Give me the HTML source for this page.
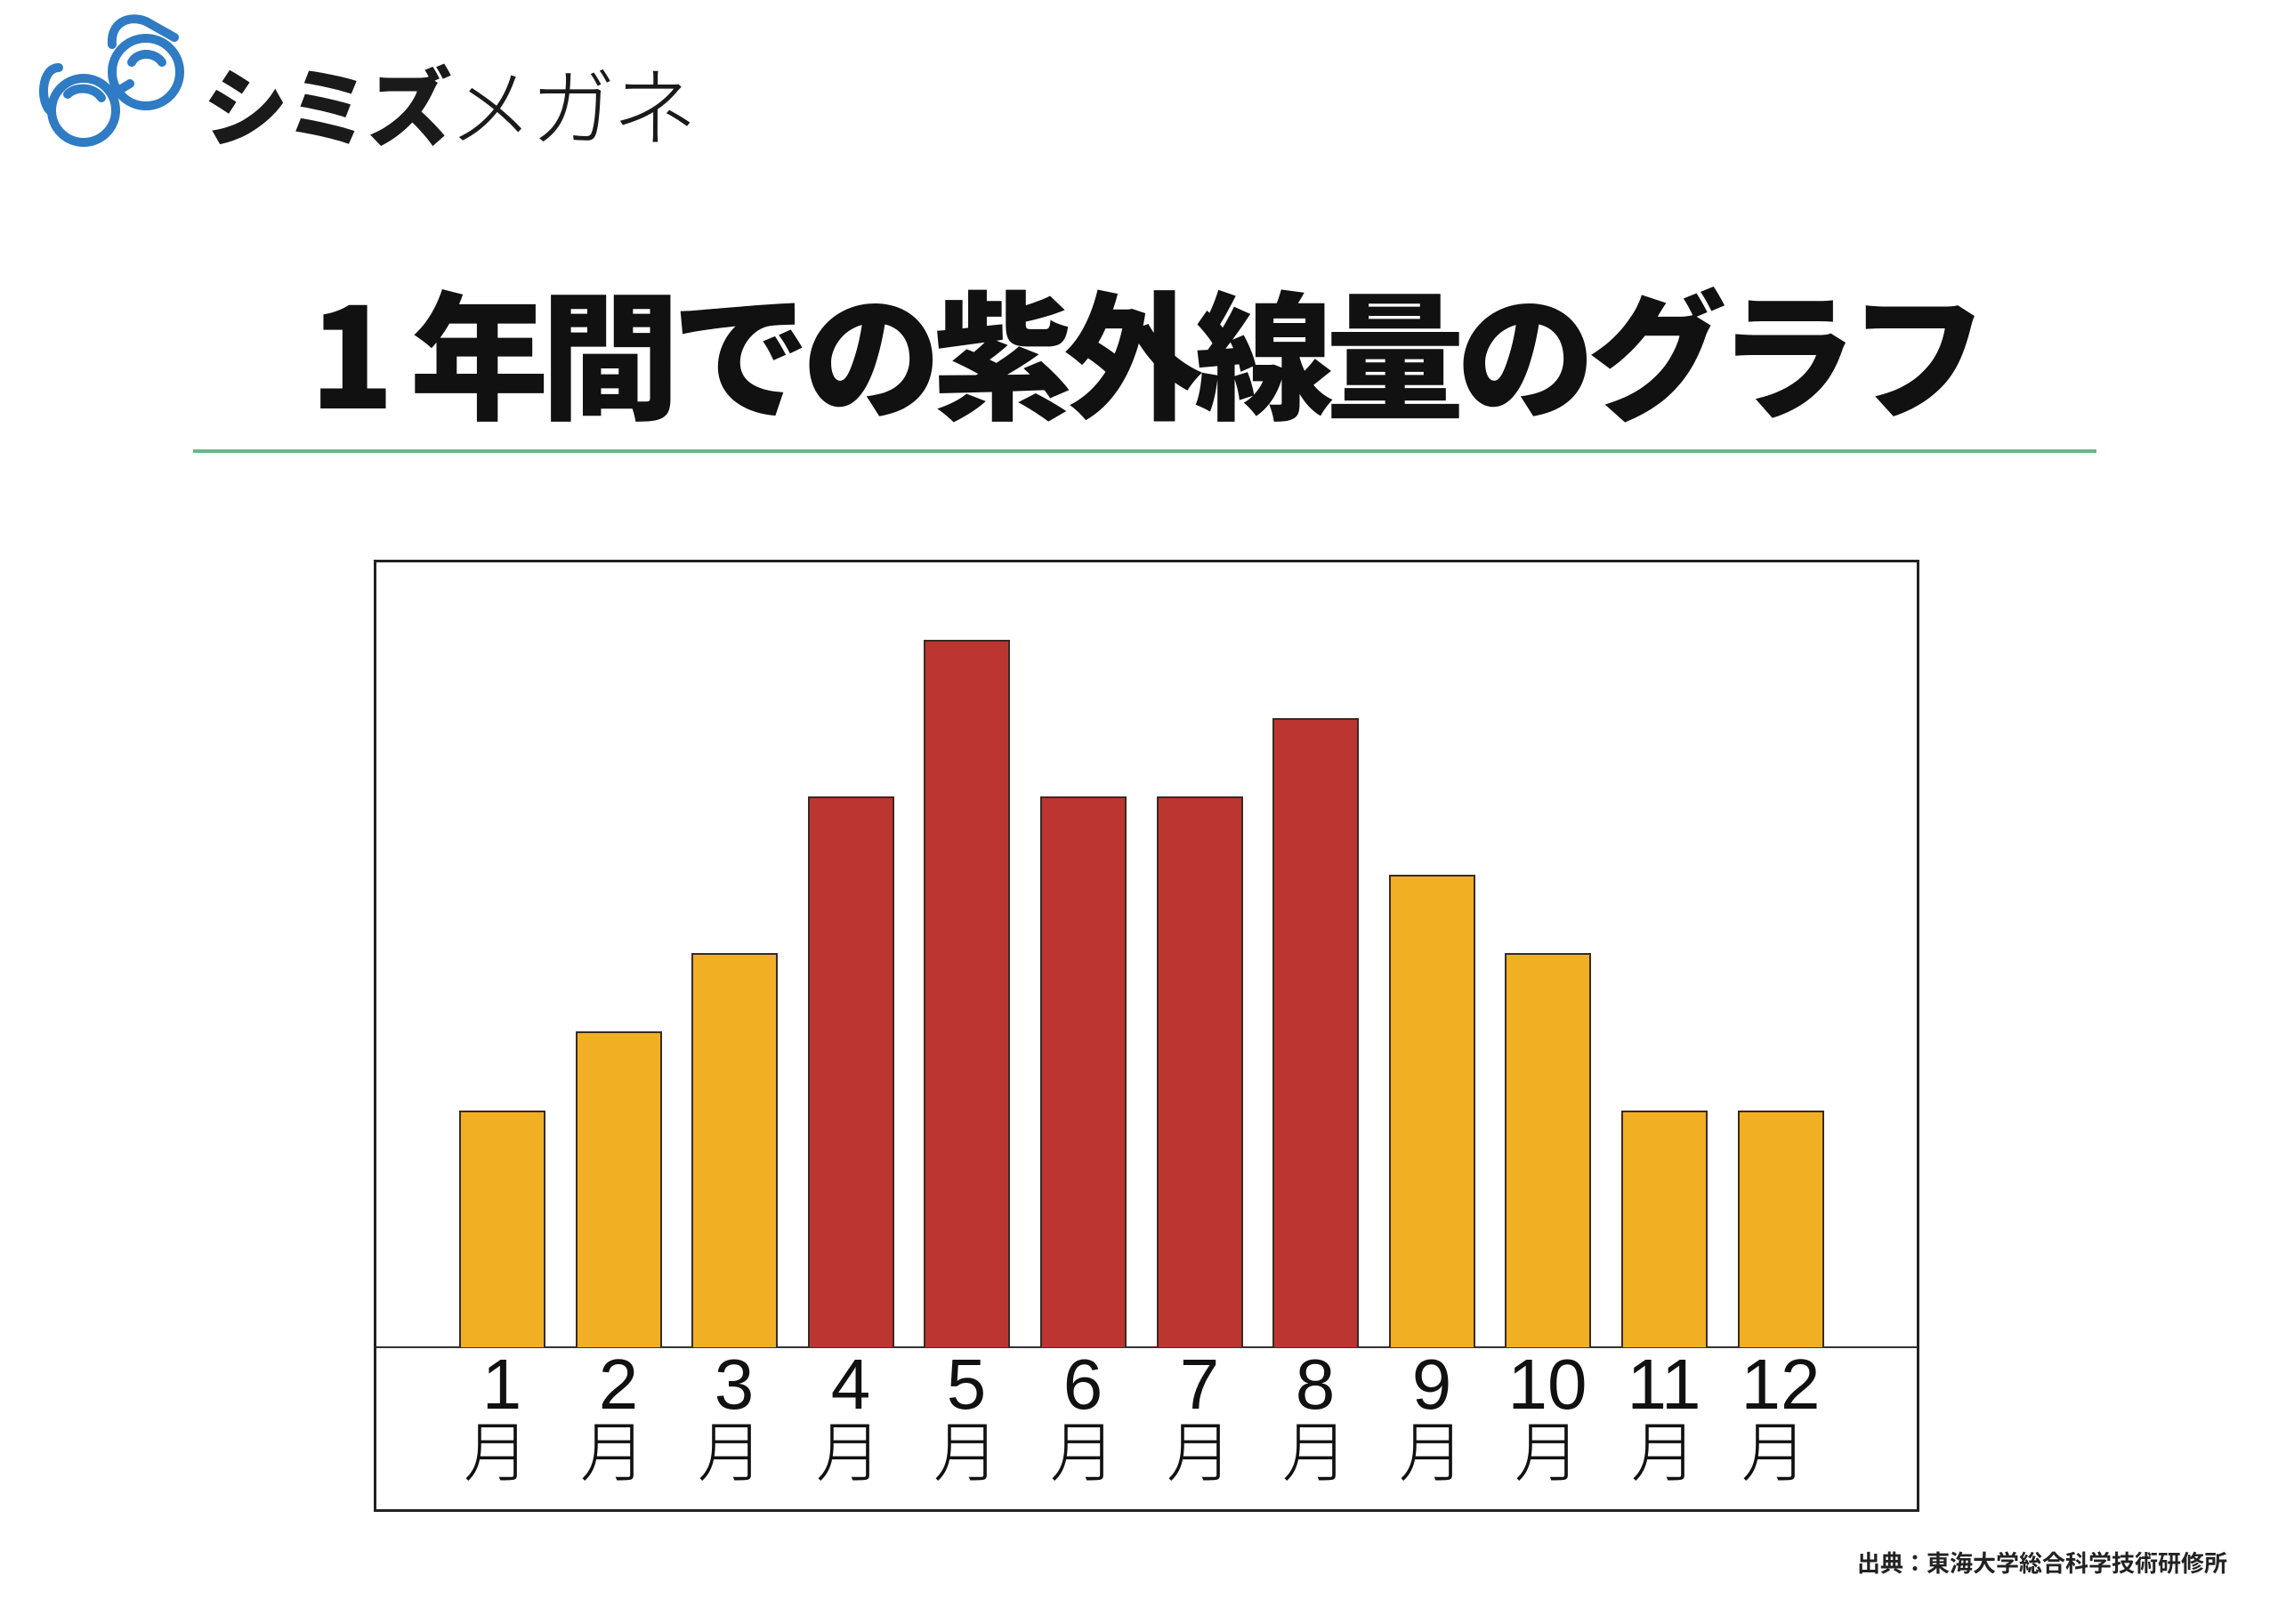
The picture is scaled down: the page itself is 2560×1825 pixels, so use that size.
<!DOCTYPE html>
<html><head><meta charset="utf-8">
<style>
html,body{margin:0;padding:0;background:#fff;}
body{width:2560px;height:1825px;position:relative;overflow:hidden;font-family:"Liberation Sans","Noto Sans CJK JP",sans-serif;}
.abs{position:absolute;}
.bar{position:absolute;width:97px;box-sizing:border-box;border:2px solid #3a2a20;border-bottom:none;}
.o{background:#F1AF24;}
.r{background:#BD3530;}
.lab{position:absolute;width:132px;text-align:center;color:#111;}
.num{top:1516px;font-size:80px;font-family:"Liberation Sans",sans-serif;line-height:1;}
.tsu{top:1590px;font-size:74px;line-height:1;font-family:"Noto Sans CJK JP",sans-serif;font-weight:300;}
</style></head><body>
<svg class="abs" style="left:36px;top:6px" width="180" height="160" viewBox="0 0 180 160">
<g fill="none" stroke="#2F7BC4" stroke-width="10" stroke-linecap="round">
<path d="M30 70 C10 70 8 110 22 120"/>
<circle cx="58" cy="118" r="36"/>
<path d="M40 100 C50 90 70 92 78 104"/>
<path d="M90 100 L110 88"/>
<circle cx="128" cy="75" r="38"/>
<path d="M112 64 C118 52 138 52 146 64"/>
<path d="M90 44 C88 20 108 10 128 18 L160 36"/>
</g></svg>
<div class="abs" style="left:228px;top:62px;font-size:96px;line-height:1.1;color:#1a1a1a;font-family:'Noto Sans CJK JP',sans-serif;white-space:nowrap;letter-spacing:-4px"><span style="font-weight:900">シミズ</span><span style="font-weight:300">メガネ</span></div>
<div class="abs" style="left:348px;top:306px;font-size:156px;line-height:1.1;font-weight:900;color:#111;font-family:'Noto Sans CJK JP',sans-serif;white-space:nowrap;letter-spacing:-9px">1 年間での紫外線量のグラフ</div>
<div class="abs" style="left:217px;top:505px;width:2139px;height:4px;background:#6DB585"></div>
<div class="abs" style="left:420px;top:629px;width:1737px;height:1070px;border:3px solid #222;box-sizing:border-box"></div>
<div class="abs" style="left:423px;top:1513px;width:1731px;height:2px;background:#333"></div>
<div class="bar o" style="left:516px;top:1248px;height:266px"></div>
<div class="bar o" style="left:647px;top:1159px;height:355px"></div>
<div class="bar o" style="left:777px;top:1071px;height:443px"></div>
<div class="bar r" style="left:908px;top:895px;height:619px"></div>
<div class="bar r" style="left:1038px;top:719px;height:795px"></div>
<div class="bar r" style="left:1169px;top:895px;height:619px"></div>
<div class="bar r" style="left:1300px;top:895px;height:619px"></div>
<div class="bar r" style="left:1430px;top:807px;height:707px"></div>
<div class="bar o" style="left:1561px;top:983px;height:531px"></div>
<div class="bar o" style="left:1691px;top:1071px;height:443px"></div>
<div class="bar o" style="left:1822px;top:1248px;height:266px"></div>
<div class="bar o" style="left:1953px;top:1248px;height:266px"></div>
<div class="lab num" style="left:498px">1</div><div class="lab tsu" style="left:492px">月</div>
<div class="lab num" style="left:629px">2</div><div class="lab tsu" style="left:623px">月</div>
<div class="lab num" style="left:759px">3</div><div class="lab tsu" style="left:755px">月</div>
<div class="lab num" style="left:890px">4</div><div class="lab tsu" style="left:888px">月</div>
<div class="lab num" style="left:1020px">5</div><div class="lab tsu" style="left:1020px">月</div>
<div class="lab num" style="left:1151px">6</div><div class="lab tsu" style="left:1151px">月</div>
<div class="lab num" style="left:1282px">7</div><div class="lab tsu" style="left:1282px">月</div>
<div class="lab num" style="left:1412px">8</div><div class="lab tsu" style="left:1412px">月</div>
<div class="lab num" style="left:1543px">9</div><div class="lab tsu" style="left:1543px">月</div>
<div class="lab num" style="left:1673px">10</div><div class="lab tsu" style="left:1673px">月</div>
<div class="lab num" style="left:1804px">11</div><div class="lab tsu" style="left:1804px">月</div>
<div class="lab num" style="left:1935px">12</div><div class="lab tsu" style="left:1928px">月</div>
<div class="abs" style="left:2087px;top:1740px;font-size:26px;line-height:1.2;color:#222;font-weight:bold;white-space:nowrap;font-family:'Noto Sans CJK JP',sans-serif">出典：東海大学総合科学技術研修所</div>
</body></html>
